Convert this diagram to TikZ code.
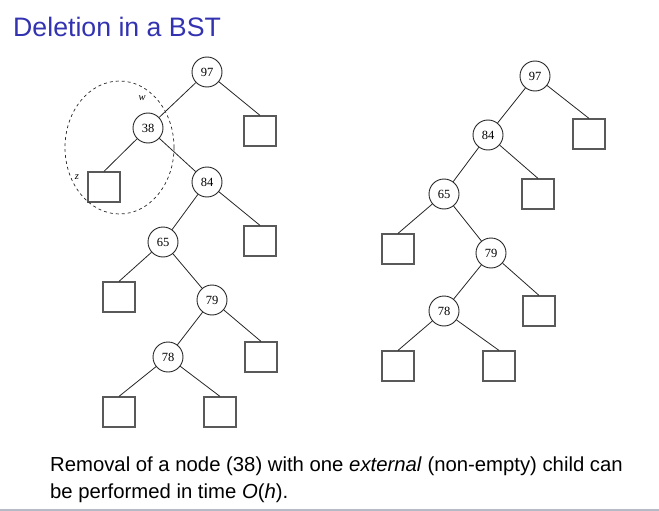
\documentclass[tikz,border=0pt]{standalone}
\usepackage{fontspec}
\setmainfont{Liberation Sans}
\newfontfamily\treefont{Liberation Serif}
\definecolor{titleblue}{RGB}{51,51,178}
\definecolor{footgray}{RGB}{182,188,198}
\tikzset{
  keynode/.style={circle, draw=black!85, line width=0.9pt, minimum size=30pt, inner sep=0pt,
    font=\treefont\fontsize{12.5}{12.5}\selectfont},
  extnode/.style={rectangle, draw=black!65, line width=1.2pt, minimum width=32pt,
    minimum height=30pt, inner sep=0pt},
  treeedge/.style={line width=0.8pt, draw=black!85},
  marklabel/.style={font=\treefont\itshape\fontsize{10.5}{10.5}\selectfont}
}
\begin{document}
\begin{tikzpicture}[x=1pt,y=-1pt]
			\useasboundingbox (0,0) rectangle (659,511);
			
			%%%%% TITLE %%%%%
			\node[anchor=base west, inner sep=0pt, text=titleblue, font=\fontsize{26.7}{26.7}\selectfont] (title) at (13,37) {Deletion in a BST};
			
			%%%%% LEFT TREE %%%%%
			\node[keynode] (l97) at (207,72) {97};
			\node[keynode] (l38) at (148,128) {38};
			\node[extnode] (lsqa) at (260,131) {};
			\node[extnode] (lz) at (104,187) {};
			\node[keynode] (l84) at (207,182) {84};
			\node[extnode] (lsqb) at (260,241) {};
			\node[keynode] (l65) at (163,242) {65};
			\node[extnode] (lsqc) at (119,297) {};
			\node[keynode] (l79) at (212,300) {79};
			\node[extnode] (lsqd) at (261,357) {};
			\node[keynode] (l78) at (168,357) {78};
			\node[extnode] (lsqe) at (119,412) {};
			\node[extnode] (lsqf) at (220,412) {};
			
			\draw[treeedge] (l97) -- (l38);
			\draw[treeedge] (l97) -- (lsqa.north);
			\draw[treeedge] (l38) -- (lz.north);
			\draw[treeedge] (l38) -- (l84);
			\draw[treeedge] (l84) -- (l65);
			\draw[treeedge] (l84) -- (lsqb.north);
			\draw[treeedge] (l65) -- (lsqc.north);
			\draw[treeedge] (l65) -- (l79);
			\draw[treeedge] (l79) -- (l78);
			\draw[treeedge] (l79) -- (lsqd.north);
			\draw[treeedge] (l78) -- (lsqe.north);
			\draw[treeedge] (l78) -- (lsqf.north);
			
			% removed part
			\draw[dashed, line width=0.7pt, black!85] (119.5,147.5) ellipse (54.5 and 66.5);
			\node[marklabel] (wlabel) at (142,98) {w};
			\node[marklabel] (zlabel) at (77,177) {z};
			
			%%%%% RIGHT TREE %%%%%
			\node[keynode] (r97) at (535,76) {97};
			\node[extnode] (rsqa) at (589,134) {};
			\node[keynode] (r84) at (488,135) {84};
			\node[extnode] (rsqb) at (538,194) {};
			\node[keynode] (r65) at (444,194) {65};
			\node[extnode] (rsqc) at (398,249) {};
			\node[keynode] (r79) at (491,253) {79};
			\node[extnode] (rsqd) at (539,311) {};
			\node[keynode] (r78) at (444,311) {78};
			\node[extnode] (rsqe) at (398,366) {};
			\node[extnode] (rsqf) at (499,366) {};
			
			\draw[treeedge] (r97) -- (r84);
			\draw[treeedge] (r97) -- (rsqa.north);
			\draw[treeedge] (r84) -- (r65);
			\draw[treeedge] (r84) -- (rsqb.north);
			\draw[treeedge] (r65) -- (rsqc.north);
			\draw[treeedge] (r65) -- (r79);
			\draw[treeedge] (r79) -- (r78);
			\draw[treeedge] (r79) -- (rsqd.north);
			\draw[treeedge] (r78) -- (rsqe.north);
			\draw[treeedge] (r78) -- (rsqf.north);
			
			%%%%% TEXT %%%%%
			\node[anchor=base west, inner sep=0pt, align=left, font=\fontsize{20.3}{26.5}\selectfont] (caption) at (50,498)
			  {Removal of a node (38) with one \textit{external} (non-empty) child can\\be performed in time \textit{O}(\textit{h}).};
			
			\draw[footgray, line width=1.5pt] (0,510) -- (659,510);
\end{tikzpicture}
\end{document}
